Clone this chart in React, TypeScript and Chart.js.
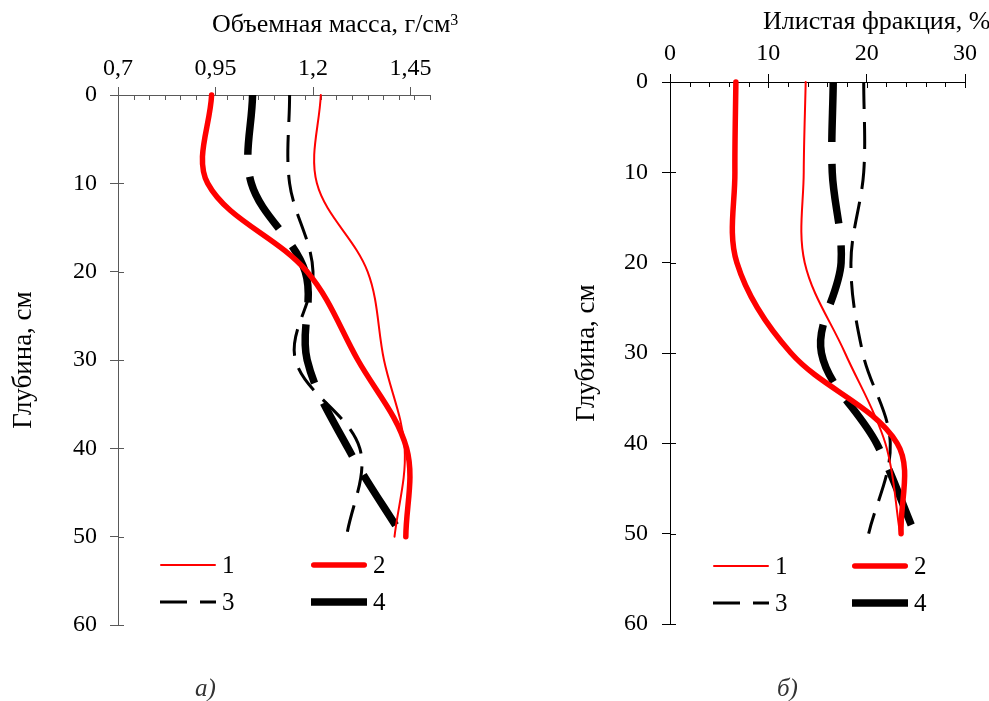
import React, { useEffect, useRef } from "react";
import { Chart, registerables } from "chart.js";

Chart.register(...registerables);

// ---------- data ----------
const depths = [0, 10, 20, 30, 40, 50];
const seriesLabels = ["1", "2", "3", "4"];

// a) bulk density, g/cm3
const bulk1 = [1.22, 1.21, 1.34, 1.382, 1.435, 1.409];
const bulk2 = [0.94, 0.93, 1.185, 1.315, 1.44, 1.438];
const bulk3 = [1.14, 1.14, 1.2, 1.155, 1.32, 1.286];
const bulk4 = [1.045, 1.042, 1.18, 1.185, 1.29, 1.43];

// б) silt fraction, %
const silt1 = [13.8, 13.6, 13.7, 17.8, 21.9, 23.4];
const silt2 = [6.7, 6.6, 6.8, 12.3, 23.1, 23.5];
const silt3 = [19.7, 19.7, 18.4, 19.6, 22.4, 20.2];
const silt4 = [16.6, 16.5, 17.4, 15.4, 21.0, 24.9];

// ticks
const bulkTicks = [0.7, 0.95, 1.2, 1.45];
const bulkMinorTicks = [
  0.74, 0.78, 0.82, 0.86, 0.9, 0.94, 0.98, 1.02, 1.06, 1.1, 1.14, 1.18, 1.22,
  1.26, 1.3, 1.34, 1.38, 1.42, 1.46, 1.5,
];
const siltTicks = [0, 10, 20, 30];
const siltMinorTicks = [2, 4, 6, 8, 12, 14, 16, 18, 22, 24, 26, 28];
const depthTicks = [0, 10, 20, 30, 40, 50, 60];

const FONT = "'Liberation Serif', 'Times New Roman', serif";

// ---------- plugins ----------
const axisExtras = {
  id: "axisExtras",
  beforeDatasetsDraw(chart: any, _args: any, opts: any) {
    const { ctx, chartArea, scales } = chart;
    const x = scales.x;
    const y = scales.y;
    ctx.save();
    ctx.strokeStyle = opts.color;
    ctx.lineWidth = 1;
    ctx.beginPath();
    for (const v of opts.xMinor) {
      const px = Math.round(x.getPixelForValue(v)) + 0.5;
      ctx.moveTo(px, chartArea.top);
      ctx.lineTo(px, chartArea.top + opts.minorLen);
    }
    if (opts.xMajorInner > 0) {
      for (const v of opts.xMajor) {
        const px = Math.round(x.getPixelForValue(v)) + 0.5;
        ctx.moveTo(px, chartArea.top);
        ctx.lineTo(px, chartArea.top + opts.xMajorInner);
      }
    }
    for (const v of opts.yMajor) {
      const py = Math.round(y.getPixelForValue(v)) + 0.5;
      ctx.moveTo(chartArea.left, py);
      ctx.lineTo(chartArea.left + opts.yMajorInner, py);
    }
    ctx.stroke();
    ctx.restore();
  },
};

const legendGrid = {
  id: "legendGrid",
  afterDatasetsDraw(chart: any, _args: any, opts: any) {
    const { ctx } = chart;
    chart.data.datasets.forEach((ds: any, i: number) => {
      const col = i % 2;
      const row = Math.floor(i / 2);
      const x0 = opts.colX[col];
      const y0 = opts.rowY[row];
      const round = ds.borderCapStyle === "round";
      const inset = round ? ds.borderWidth / 2 : 0;
      ctx.save();
      ctx.strokeStyle = ds.borderColor;
      ctx.lineWidth = ds.borderWidth;
      ctx.lineCap = ds.borderCapStyle || "butt";
      ctx.setLineDash(ds.borderDash || []);
      ctx.beginPath();
      ctx.moveTo(x0 + inset, y0);
      ctx.lineTo(x0 + opts.sampleLen - inset, y0);
      ctx.stroke();
      ctx.setLineDash([]);
      ctx.fillStyle = "#000";
      ctx.font = `${opts.fontSize}px ${FONT}`;
      ctx.textAlign = "left";
      ctx.textBaseline = "middle";
      ctx.fillText(ds.label, x0 + opts.sampleLen + opts.gap, y0 + 1);
      ctx.restore();
    });
  },
};

// ---------- config builder ----------
type PanelSpec = {
  series: number[][];
  xMin: number;
  xMax: number;
  xTicks: number[];
  xMinor: number[];
  axisColor: string;
  area: { left: number; top: number; right: number; bottom: number };
  canvasW: number;
  canvasH: number;
  yTitlePad: number;
  yLabelPad: number;
  xLabelPad: number;
  xMajorInner: number;
  legend: { colX: number[]; rowY: number[] };
};

const seriesStyles = [
  { color: "#ff0000", width: 2, dash: [] as number[], cap: "round" },
  { color: "#ff0000", width: 5.5, dash: [] as number[], cap: "round" },
  { color: "#000000", width: 3, dash: [27, 13], cap: "butt" },
  { color: "#000000", width: 7.5, dash: [60, 22], cap: "butt" },
];

function buildConfig(p: PanelSpec): any {
  const datasets = p.series.map((vals, i) => {
    const st = seriesStyles[i];
    return {
      label: seriesLabels[i],
      data: vals.map((v, k) => ({ x: v, y: depths[k] })),
      borderColor: st.color,
      backgroundColor: st.color,
      borderWidth: st.width,
      borderDash: st.dash,
      borderCapStyle: st.cap,
      borderJoinStyle: "round",
      pointRadius: 0,
      pointHoverRadius: 0,
      tension: 0.35,
      fill: false,
      clip: false,
    };
  });
  const tickFont = { family: FONT, size: 24 };
  return {
    type: "line",
    data: { datasets },
    plugins: [axisExtras, legendGrid],
    options: {
      animation: false,
      responsive: false,
      devicePixelRatio: 1,
      events: [],
      layout: {
        padding: {
          left: 0,
          top: 0,
          right: p.canvasW - p.area.right,
          bottom: p.canvasH - p.area.bottom,
        },
      },
      scales: {
        x: {
          type: "linear",
          position: "top",
          min: p.xMin,
          max: p.xMax,
          afterBuildTicks: (s: any) => {
            s.ticks = p.xTicks.map((v) => ({ value: v }));
          },
          afterFit: (s: any) => {
            s.height = p.area.top;
          },
          ticks: {
            autoSkip: false,
            maxRotation: 0,
            minRotation: 0,
            padding: p.xLabelPad,
            color: "#000",
            font: tickFont,
            callback: (v: any) => String(v).replace(".", ","),
          },
          grid: {
            display: true,
            drawOnChartArea: false,
            drawTicks: true,
            tickLength: 8,
            color: p.axisColor,
            lineWidth: 1,
          },
          border: { display: true, color: p.axisColor, width: 1 },
        },
        y: {
          type: "linear",
          position: "left",
          reverse: true,
          min: 0,
          max: 60,
          afterBuildTicks: (s: any) => {
            s.ticks = depthTicks.map((v) => ({ value: v }));
          },
          afterFit: (s: any) => {
            s.width = p.area.left;
          },
          ticks: {
            autoSkip: false,
            padding: p.yLabelPad,
            color: "#000",
            font: tickFont,
          },
          grid: {
            display: true,
            drawOnChartArea: false,
            drawTicks: true,
            tickLength: 8,
            color: p.axisColor,
            lineWidth: 1,
          },
          border: { display: true, color: p.axisColor, width: 1 },
          title: {
            display: true,
            text: "Глубина, см",
            color: "#000",
            font: { family: FONT, size: 27 },
            padding: { top: p.yTitlePad, bottom: 0 },
          },
        },
      },
      plugins: {
        legend: { display: false },
        tooltip: { enabled: false },
        axisExtras: {
          color: p.axisColor,
          xMinor: p.xMinor,
          xMajor: p.xTicks,
          xMajorInner: p.xMajorInner,
          minorLen: 5,
          yMajor: depthTicks,
          yMajorInner: 6,
        },
        legendGrid: {
          colX: p.legend.colX,
          rowY: p.legend.rowY,
          sampleLen: 56,
          gap: 6,
          fontSize: 25,
        },
      },
    },
  };
}

const leftSpec: PanelSpec = {
  series: [bulk1, bulk2, bulk3, bulk4],
  xMin: 0.7,
  xMax: 1.5,
  xTicks: bulkTicks,
  xMinor: bulkMinorTicks,
  axisColor: "#595959",
  area: { left: 118, top: 95, right: 430, bottom: 625 },
  canvasW: 494,
  canvasH: 701,
  yTitlePad: 8,
  yLabelPad: 13,
  xLabelPad: 4,
  xMajorInner: 0,
  legend: { colX: [160, 311], rowY: [565, 602] },
};

const rightSpec: PanelSpec = {
  series: [silt1, silt2, silt3, silt4],
  xMin: 0,
  xMax: 30,
  xTicks: siltTicks,
  xMinor: siltMinorTicks,
  axisColor: "#000000",
  area: { left: 176, top: 82, right: 471, bottom: 624 },
  canvasW: 495,
  canvasH: 701,
  yTitlePad: 77,
  yLabelPad: 14,
  xLabelPad: 6,
  xMajorInner: 6,
  legend: { colX: [219, 358], rowY: [566, 603] },
};

function ChartCanvas({ spec, left }: { spec: PanelSpec; left: number }) {
  const ref = useRef<HTMLCanvasElement>(null);
  useEffect(() => {
    const chart = new Chart(ref.current as HTMLCanvasElement, buildConfig(spec));
    return () => chart.destroy();
  }, [spec]);
  return (
    <canvas
      ref={ref}
      width={spec.canvasW}
      height={spec.canvasH}
      style={{
        position: "absolute",
        left,
        top: 0,
        width: spec.canvasW,
        height: spec.canvasH,
      }}
    />
  );
}

const textBase: React.CSSProperties = {
  position: "absolute",
  fontFamily: FONT,
  fontSize: 26,
  lineHeight: "24px",
  color: "#000",
  whiteSpace: "nowrap",
};

export default function App() {
  return (
    <div
      style={{
        position: "absolute",
        left: 0,
        top: 0,
        width: 989,
        height: 701,
        background: "#fff",
        overflow: "hidden",
      }}
    >
      <ChartCanvas spec={leftSpec} left={0} />
      <ChartCanvas spec={rightSpec} left={494} />
      <div style={{ ...textBase, left: 212, top: 12 }}>
        Объемная масса, г/см
        <sup style={{ fontSize: 16, verticalAlign: "top", position: "relative", top: -4 }}>3</sup>
      </div>
      <div style={{ ...textBase, left: 763, top: 9 }}>Илистая фракция, %</div>
      <div style={{ ...textBase, fontSize: 25, left: 195, top: 676, fontStyle: "italic", color: "#333" }}>а)</div>
      <div style={{ ...textBase, fontSize: 25, left: 777, top: 676, fontStyle: "italic", color: "#333" }}>б)</div>
    </div>
  );
}
